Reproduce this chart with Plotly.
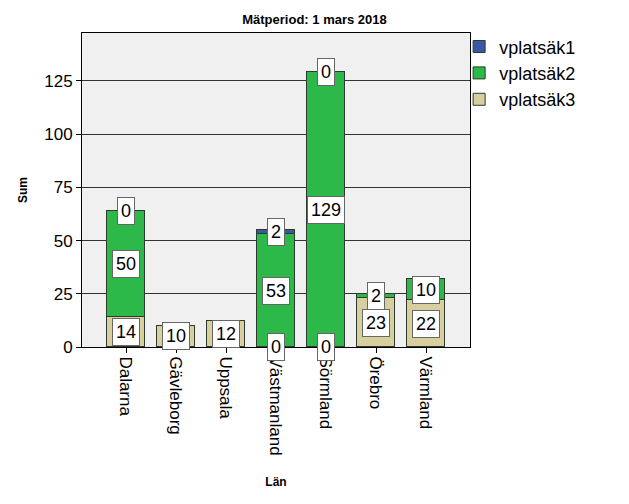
import plotly.graph_objects as go

lan = ["Dalarna", "Gävleborg", "Uppsala", "Västmanland", "Sörmland", "Örebro", "Värmland"]
vplatsak3 = [14, 10, 12, 0, 0, 23, 22]
vplatsak2 = [50, None, None, 53, 129, 2, 10]
vplatsak1 = [0, None, None, 2, 0, None, None]

series = [("vplatsäk3", vplatsak3, "#d7d09e"),
          ("vplatsäk2", vplatsak2, "#2db84a"),
          ("vplatsäk1", vplatsak1, "#3b57a8")]

fig = go.Figure()
base = [0] * len(lan)
labels = []
for name, vals, col in series:
    fig.add_trace(go.Bar(x=lan, y=[v if v is not None else 0 for v in vals], name=name,
                         marker=dict(color=col, line=dict(color="#2f3a2f", width=1)),
                         width=0.76, hoverinfo="skip"))
    for i, v in enumerate(vals):
        if v is None:
            continue
        labels.append((lan[i], base[i] + v / 2, str(v)))
        base[i] += v

for x, y, t in labels:
    fig.add_annotation(x=x, y=y, text=t, showarrow=False, bgcolor="white",
                       bordercolor="#666666", borderwidth=1, borderpad=3,
                       font=dict(size=18, color="black", family="Liberation Sans, Arial"))

fig.update_layout(
    barmode="stack", bargap=0,
    width=629, height=504,
    margin=dict(l=82, r=159, t=33, b=157),
    paper_bgcolor="white", plot_bgcolor="#f0f0f0",
    font=dict(family="Liberation Sans, Arial", color="black"),
    title=dict(text="<b>Mätperiod: 1 mars 2018</b>", x=0.5, xanchor="center", y=0.962, yanchor="middle",
               font=dict(size=13, family="Liberation Sans Narrow, Arial Narrow, Liberation Sans")),
    legend=dict(x=0.972, xanchor="left", y=1.015, yanchor="top", traceorder="reversed",
                font=dict(size=18), bgcolor="rgba(0,0,0,0)", tracegroupgap=0,
                itemwidth=30),
    showlegend=True,
)
fig.update_xaxes(range=[-0.88, 6.88], tickangle=90, ticks="outside", ticklen=5, tickcolor="black",
                 tickfont=dict(size=17), showline=True, linecolor="black", mirror=True,
                 automargin=False,
                 title=dict(text="<b>Län</b>", font=dict(size=12), standoff=22))
fig.update_yaxes(range=[0, 147.5], tickvals=[0, 25, 50, 75, 100, 125], ticks="outside", ticklen=5,
                 tickcolor="black", tickfont=dict(size=17), showgrid=True, gridcolor="#333333",
                 gridwidth=1, showline=True, linecolor="black", mirror=True, zeroline=False,
                 automargin=False,
                 title=dict(text="<b>Sum</b>", font=dict(size=12), standoff=14))

fig.write_html("out.html", config={"displayModeBar": False},
               post_script="document.body.style.margin='0';")
